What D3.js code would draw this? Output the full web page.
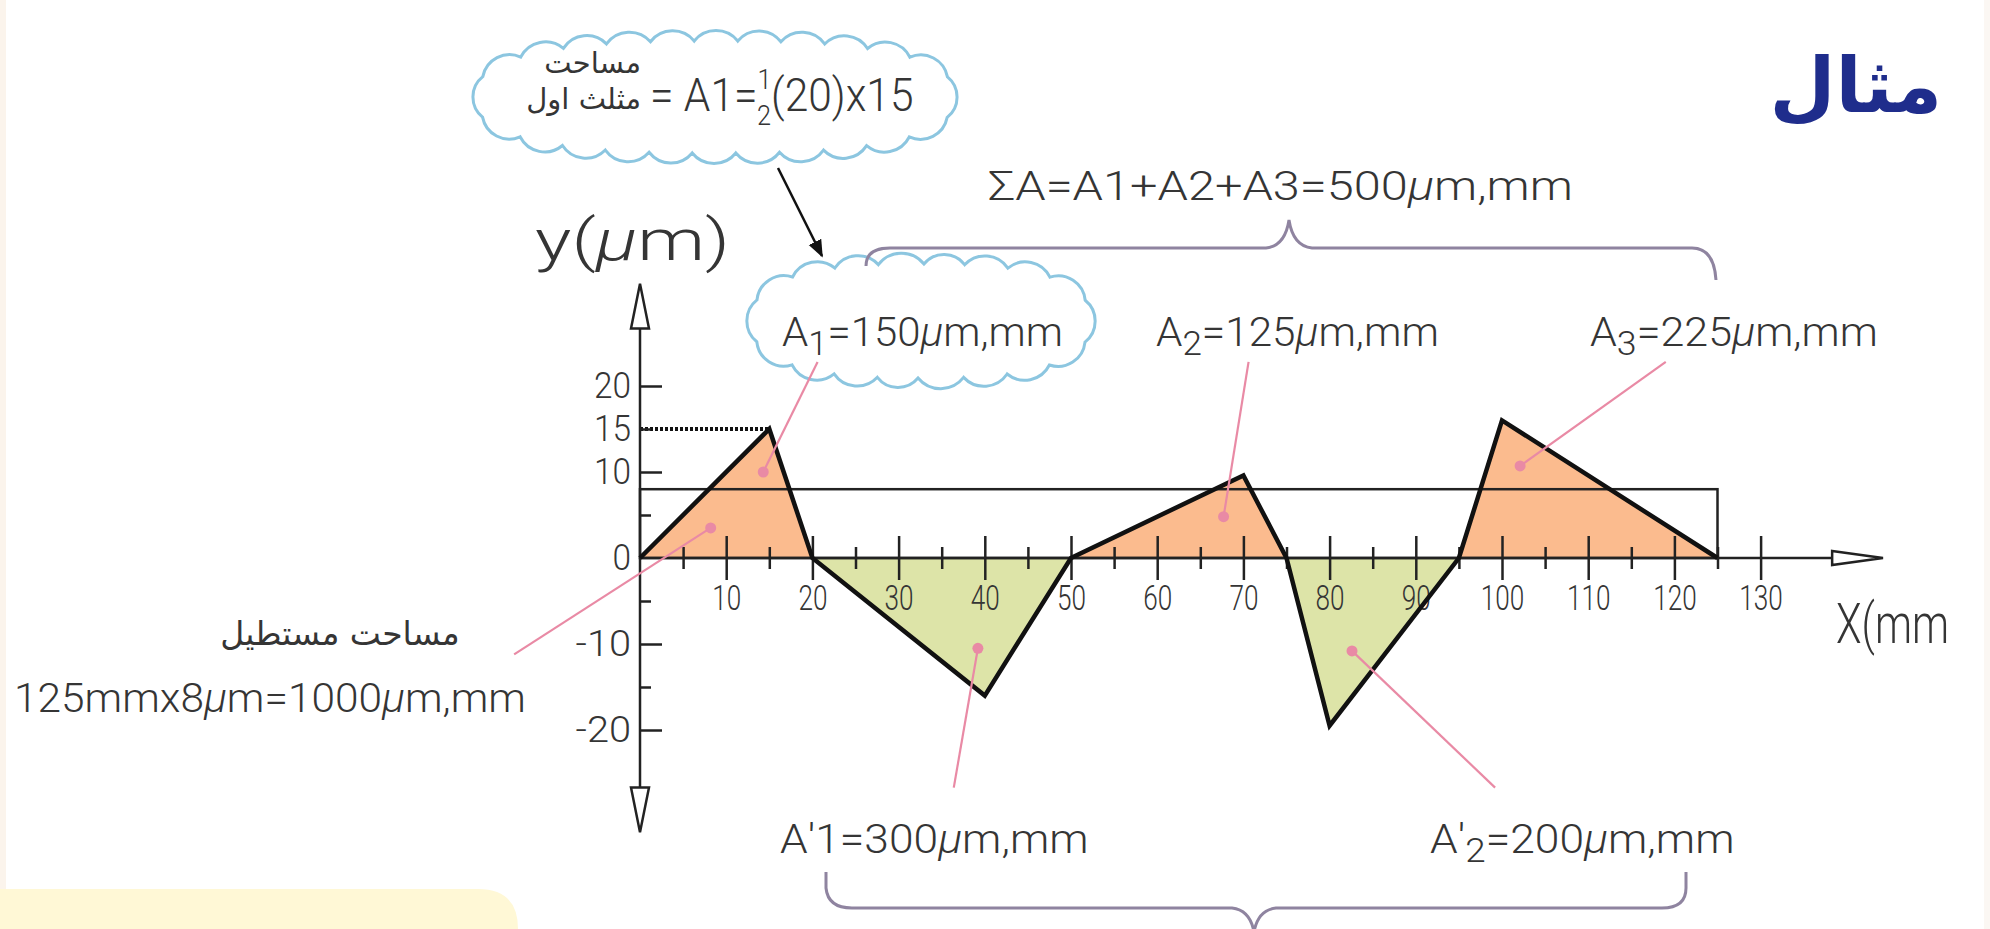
<!DOCTYPE html>
<html>
<head>
<meta charset="utf-8">
<script src="https://cdn.jsdelivr.net/npm/d3@7"></script>
<style>
  html, body { margin: 0; padding: 0; background: #ffffff; }
  svg { display: block; }
</style>
</head>
<body>
<svg id="chart" width="1990" height="929"></svg>
<script>
// Surface profile (x in mm, y in µm) and the derived areas
const profileX = [0, 15, 20, 40, 50, 70, 75, 80, 95, 100, 125];
const profileY = [0, 15, 0, -16, 0, 9.6, 0, -19.5, 0, 16, 0];
const meanHeight = 8;          // mean line height, µm
const sampleLength = 125;      // evaluation length, mm
const peakMarker = 15;         // dotted reference to the first peak

const xMajorTicks = [10, 20, 30, 40, 50, 60, 70, 80, 90, 100, 110, 120, 130];
const xMinorTicks = [5, 15, 25, 35, 45, 55, 65, 75, 85, 95, 105, 115, 125];
const yMajorTicks = [20, 10, -10, -20];
const yMinorTicks = [15, 5, -5, -15];
const yTickLabels = [20, 15, 10, 0, -10, -20];

// Leader lines: label end and dot position, in data units
const leaderNames = ["rect", "A1", "A2", "A3", "A1p", "A2p"];
const leaderFrom = [[-14.6, -11.2], [20.6, 22.8], [70.6, 22.8], [119, 22.8], [36.4, -26.7], [99.2, -26.7]];
const leaderTo   = [[8.2, 3.5], [14.3, 10.0], [67.7, 4.8], [102.1, 10.7], [39.2, -10.5], [82.6, -10.8]];

const FONT = "Roboto,'DejaVu Sans Condensed',sans-serif";
const ARABIC = "'DejaVu Sans','Noto Sans',sans-serif";
const INK = "#353535";
const ORANGE = "#fbbb8e";
const GREEN = "#dde4a8";
const PINK = "#e98aa5";
const CLOUD = "#8cc6e0";
const BRACE = "#8f84a0";

const svg = d3.select("#chart");

// page decoration
svg.append("rect").attr("x", 0).attr("y", 0).attr("width", 6).attr("height", 929).attr("fill", "#fbf4ec");
svg.append("rect").attr("x", 1984).attr("y", 0).attr("width", 6).attr("height", 929).attr("fill", "#fbf7f3");
svg.append("path")
  .attr("d", "M0,889 L478,889 Q518,889 518,929 L0,929 Z")
  .attr("fill", "#fff8d6");

const x = d3.scaleLinear().domain([0, 130]).range([640, 640 + 130 * 8.62]);
const y = d3.scaleLinear().domain([-20, 20]).range([730, 386]);

const pts = profileX.map((v, i) => [v, profileY[i]]);

// clip regions above and below the zero line
const defs = svg.append("defs");
defs.append("clipPath").attr("id", "above")
  .append("rect").attr("x", 0).attr("y", 0).attr("width", 1990).attr("height", y(0));
defs.append("clipPath").attr("id", "below")
  .append("rect").attr("x", 0).attr("y", y(0)).attr("width", 1990).attr("height", 929 - y(0));
defs.append("marker").attr("id", "arrowhead")
  .attr("viewBox", "0 0 10 10").attr("refX", 9).attr("refY", 5)
  .attr("markerWidth", 7).attr("markerHeight", 7).attr("orient", "auto")
  .append("path").attr("d", "M0,1 L10,5 L0,9 Z").attr("fill", "#111");

const area = d3.area().x(d => x(d[0])).y0(y(0)).y1(d => y(d[1]));
svg.append("path").attr("d", area(pts)).attr("fill", ORANGE).attr("clip-path", "url(#above)");
svg.append("path").attr("d", area(pts)).attr("fill", GREEN).attr("clip-path", "url(#below)");

// mean-height rectangle
svg.append("rect")
  .attr("x", x(0)).attr("y", y(meanHeight))
  .attr("width", x(sampleLength) - x(0)).attr("height", y(0) - y(meanHeight))
  .attr("fill", "none").attr("stroke", "#222").attr("stroke-width", 2.5);

// dotted line to first peak
svg.append("line")
  .attr("x1", x(0)).attr("x2", x(peakMarker)).attr("y1", y(peakMarker)).attr("y2", y(peakMarker))
  .attr("stroke", "#111").attr("stroke-width", 4).attr("stroke-dasharray", "3,2");

// x axis line with hollow arrow
const xEnd = 138.3, xTip = 144.2;
svg.append("line").attr("x1", x(0)).attr("x2", x(xEnd)).attr("y1", y(0)).attr("y2", y(0))
  .attr("stroke", "#222").attr("stroke-width", 2.5);
svg.append("path")
  .attr("d", `M${x(xEnd)},${y(0) - 7} L${x(xTip)},${y(0)} L${x(xEnd)},${y(0) + 7} Z`)
  .attr("fill", "#fff").attr("stroke", "#222").attr("stroke-width", 2.5);

// x ticks crossing the axis
const gx = svg.append("g").attr("transform", `translate(0,${y(0)})`)
  .call(d3.axisBottom(x).tickValues(xMajorTicks).tickSize(0).tickPadding(27).tickFormat(d3.format("d")));
gx.select(".domain").remove();
gx.selectAll(".tick line").attr("y1", -22).attr("y2", 22).attr("stroke", "#222").attr("stroke-width", 2.5);
gx.selectAll(".tick text").attr("font-family", FONT).attr("font-weight", 300).attr("font-size", 35).attr("fill", INK)
  .attr("dy", "0.71em")
  .attr("textLength", d => String(d).length * 14.5).attr("lengthAdjust", "spacingAndGlyphs");
const gxm = svg.append("g").attr("transform", `translate(0,${y(0)})`)
  .call(d3.axisBottom(x).tickValues(xMinorTicks).tickSize(0).tickFormat(""));
gxm.select(".domain").remove();
gxm.selectAll(".tick line").attr("y1", -11).attr("y2", 11).attr("stroke", "#222").attr("stroke-width", 2.5);

// y axis with arrows at both ends
const yEnd = 26.7, yTip = 31.9;
svg.append("line").attr("x1", x(0)).attr("x2", x(0)).attr("y1", y(yEnd)).attr("y2", y(-yEnd))
  .attr("stroke", "#222").attr("stroke-width", 2.5);
svg.append("path")
  .attr("d", `M${x(0) - 9},${y(yEnd)} L${x(0)},${y(yTip)} L${x(0) + 9},${y(yEnd)} Z`)
  .attr("fill", "#fff").attr("stroke", "#222").attr("stroke-width", 2.5);
svg.append("path")
  .attr("d", `M${x(0) - 9},${y(-yEnd)} L${x(0)},${y(-yTip)} L${x(0) + 9},${y(-yEnd)} Z`)
  .attr("fill", "#fff").attr("stroke", "#222").attr("stroke-width", 2.5);

const gy = svg.append("g").attr("transform", `translate(${x(0)},0)`)
  .call(d3.axisRight(y).tickValues(yMajorTicks).tickSize(22).tickFormat(""));
gy.select(".domain").remove();
gy.selectAll(".tick line").attr("stroke", "#222").attr("stroke-width", 2.5);
const gym = svg.append("g").attr("transform", `translate(${x(0)},0)`)
  .call(d3.axisRight(y).tickValues(yMinorTicks).tickSize(11).tickFormat(""));
gym.select(".domain").remove();
gym.selectAll(".tick line").attr("stroke", "#222").attr("stroke-width", 2.5);
const gyl = svg.append("g").attr("transform", `translate(${x(0)},0)`)
  .call(d3.axisLeft(y).tickValues(yTickLabels).tickSize(0).tickPadding(9).tickFormat(d3.format("d")));
gyl.select(".domain").remove();
gyl.selectAll(".tick text").attr("font-family", FONT).attr("font-weight", 300).attr("font-size", 37).attr("fill", INK)
  .text(d => d < 0 ? "-" + Math.abs(d) : d)
  .attr("textLength", d => (d < 0 ? 3 : String(d).length) * 18.5).attr("lengthAdjust", "spacingAndGlyphs");

// profile
svg.append("path")
  .attr("d", d3.line().x(d => x(d[0])).y(d => y(d[1]))(pts))
  .attr("fill", "none").attr("stroke", "#111").attr("stroke-width", 4.5)
  .attr("stroke-linejoin", "miter");

// text squeezed horizontally to a given width, keeping glyph height
function fitText(px, py, width, size, build, family) {
  const t = svg.append("text").attr("x", 0).attr("y", 0)
    .attr("font-family", family || FONT).attr("font-weight", family ? null : 300)
    .attr("font-size", size).attr("fill", INK);
  build(t);
  const w = t.node().getComputedTextLength();
  const k = w > 0 ? width / w : 1;
  t.attr("transform", `translate(${px},${py}) scale(${k},1)`);
  return t;
}
function mu(sel) { sel.append("tspan").attr("font-style", "italic").text("μ"); }

// axis titles
fitText(535, 260, 195, 58, t => { t.append("tspan").text("y("); mu(t); t.append("tspan").text("m)"); });
fitText(1836, 643, 113, 56, t => t.text("X(mm"));

// clouds
function cloudPath(cx, cy, rx, ry, n, p) {
  const N = 1200, raw = [];
  for (let i = 0; i <= N; i++) {
    const t = Math.PI * 2 * i / N, c = Math.cos(t), s = Math.sin(t);
    raw.push([cx + rx * Math.sign(c) * Math.pow(Math.abs(c), 2 / p),
              cy + ry * Math.sign(s) * Math.pow(Math.abs(s), 2 / p)]);
  }
  const cum = [0];
  for (let i = 1; i <= N; i++) cum.push(cum[i - 1] + Math.hypot(raw[i][0] - raw[i - 1][0], raw[i][1] - raw[i - 1][1]));
  const L = cum[N], sel = [];
  let j = 0;
  for (let k = 0; k < n; k++) {
    const target = L * (k + 0.5) / n;
    while (cum[j] < target) j++;
    sel.push(raw[j]);
  }
  let d = `M${sel[0][0]},${sel[0][1]}`;
  for (let k = 1; k <= n; k++) {
    const a = sel[k - 1], b = sel[k % n];
    const r = Math.hypot(b[0] - a[0], b[1] - a[1]) * 0.64;
    d += ` A${r},${r} 0 0 1 ${b[0]},${b[1]}`;
  }
  return d + "Z";
}
svg.append("path").attr("d", cloudPath(715, 97, 239, 56, 24, 2.6))
  .attr("fill", "#fff").attr("stroke", CLOUD).attr("stroke-width", 3);
svg.append("path").attr("d", cloudPath(921, 321, 169, 57, 18, 2.6))
  .attr("fill", "#fff").attr("stroke", CLOUD).attr("stroke-width", 3);

// arrow between clouds
svg.append("line").attr("x1", 778).attr("y1", 168).attr("x2", 822).attr("y2", 256)
  .attr("stroke", "#111").attr("stroke-width", 2.5).attr("marker-end", "url(#arrowhead)");

// first cloud formula: Arabic caption, then A1 = 1/2 (20) x 15
svg.append("text").attr("x", 641).attr("y", 73).attr("text-anchor", "end")
  .attr("font-family", ARABIC).attr("font-size", 29).attr("fill", INK).text("مساحت");
svg.append("text").attr("x", 641).attr("y", 109).attr("text-anchor", "end")
  .attr("font-family", ARABIC).attr("font-size", 29).attr("fill", INK).text("مثلث اول");
fitText(650, 111, 278, 47, t => {
  t.append("tspan").text("= A1=");
  t.append("tspan").attr("font-size", 28).attr("dy", -22).text("1");
  t.append("tspan").attr("font-size", 28).attr("dx", -16).attr("dy", 36).text("2");
  t.append("tspan").attr("dy", -14).text("(20)x15");
});

// area labels
function areaLabel(px, py, width, name, sub, prime, value) {
  fitText(px, py, width, 41, t => {
    t.append("tspan").text(name);
    if (prime && sub) {
      t.append("tspan").text("′");
      t.append("tspan").attr("dy", 9).attr("font-size", 34).text(sub);
      t.append("tspan").attr("dy", -9).text("=" + value);
    } else if (prime) {
      t.append("tspan").text("′1=" + value);
    } else {
      t.append("tspan").attr("dy", 9).attr("font-size", 34).text(sub);
      t.append("tspan").attr("dy", -9).text("=" + value);
    }
    mu(t);
    t.append("tspan").text("m,mm");
  });
}
areaLabel(782, 346, 281, "A", "1", false, "150");
areaLabel(1156, 346, 283, "A", "2", false, "125");
areaLabel(1590, 346, 288, "A", "3", false, "225");
areaLabel(780, 853, 306, "A", null, true, "300");
areaLabel(1430, 853, 302, "A", "2", true, "200");

fitText(988, 200, 585, 41, t => {
  t.append("tspan").text("ΣA=A1+A2+A3=500");
  mu(t);
  t.append("tspan").text("m,mm");
});

// rectangle area note
svg.append("text").attr("x", 340).attr("y", 645).attr("text-anchor", "middle")
  .attr("font-family", ARABIC).attr("font-size", 33).attr("fill", INK).text("مساحت مستطیل");
fitText(14, 712, 512, 41, t => {
  t.append("tspan").text("125mmx8");
  mu(t);
  t.append("tspan").text("m=1000");
  mu(t);
  t.append("tspan").text("m,mm");
});

// braces
svg.append("path")
  .attr("d", "M866,266 Q866,248 890,248 L1266,248 Q1285,246 1289,220 Q1293,246 1312,248 L1692,248 Q1714,248 1716,280")
  .attr("fill", "none").attr("stroke", BRACE).attr("stroke-width", 3);
svg.append("path")
  .attr("d", "M826,872 L826,888 Q828,908 852,908 L1232,908 Q1250,910 1254,932 Q1258,910 1276,908 L1662,908 Q1686,908 1686,888 L1686,872")
  .attr("fill", "none").attr("stroke", BRACE).attr("stroke-width", 3);

// leader lines with dots
const leaders = svg.append("g");
leaderNames.forEach((name, i) => {
  leaders.append("line")
    .attr("x1", x(leaderFrom[i][0])).attr("y1", y(leaderFrom[i][1]))
    .attr("x2", x(leaderTo[i][0])).attr("y2", y(leaderTo[i][1]))
    .attr("stroke", PINK).attr("stroke-width", 2.2);
  leaders.append("circle").attr("cx", x(leaderTo[i][0])).attr("cy", y(leaderTo[i][1]))
    .attr("r", 5.5).attr("fill", PINK);
});

// title
svg.append("text").attr("x", 1942).attr("y", 112).attr("text-anchor", "end")
  .attr("font-family", ARABIC).attr("font-weight", "bold").attr("font-size", 76)
  .attr("fill", "#1f2d8c").text("مثال");
</script>
</body>
</html>
